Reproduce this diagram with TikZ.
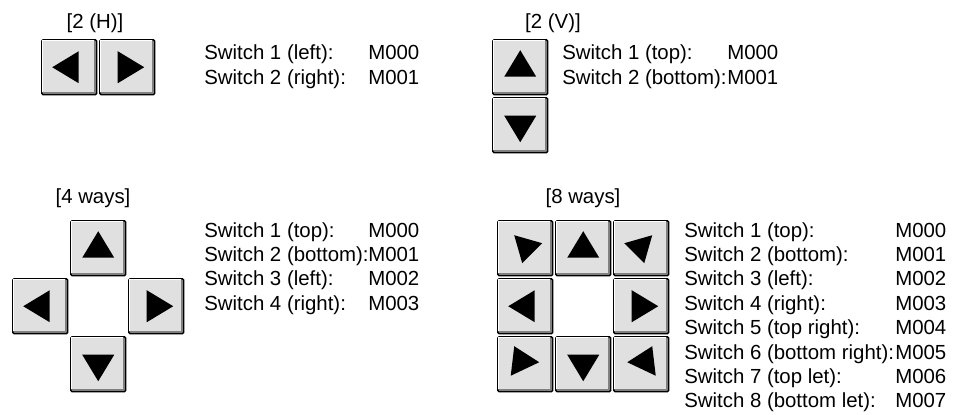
\documentclass[tikz,border=0pt]{standalone}
\usepackage{fontspec}
\setmainfont{Liberation Sans}
\definecolor{facegray}{HTML}{E0E0E0}
\definecolor{shadowgray}{HTML}{808080}
\newcommand\mkface[1]{%
  \fill[white] ([xshift=0.55pt,yshift=-0.55pt]#1.north west) rectangle ([xshift=-2.3pt,yshift=2.3pt]#1.south east);
  \fill[facegray] ([xshift=1.35pt,yshift=-1.35pt]#1.north west) rectangle ([xshift=-2.3pt,yshift=2.3pt]#1.south east);}
\newcommand\mktri[4]{\fill[black,shift={(#1.center)}] #2 -- #3 -- #4 -- cycle;}
\begin{document}
\begin{tikzpicture}[x=0.75pt,y=-0.75pt,
  btn/.style={rectangle, draw=black, line width=1.1pt, fill=shadowgray, minimum size=41.25pt, inner sep=0pt, rounded corners=1pt, anchor=north west},
  lbl/.style={anchor=base west, inner sep=0pt, font=\fontsize{15.3}{18}\selectfont},
  ttl/.style={anchor=base, inner sep=0pt, font=\fontsize{15.3}{18}\selectfont}]
\useasboundingbox (0,0) rectangle (959,414);

% ---------- titles
\node[ttl] (t2h) at (95,28) {[2 (H)]};
\node[ttl] (t2v) at (553,28) {[2 (V)]};
\node[ttl] (t4) at (93,203) {[4 ways]};
\node[ttl] (t8) at (583,203) {[8 ways]};

% ---------- buttons
\foreach \n/\x/\y in {h1/41/39, h2/99/39, v1/492/39, v2/492/97,
  f1/70/220, f2/70/336, f3/12/278, f4/128/278,
  e1/555/220, e2/555/336, e3/497/278, e4/613/278,
  e5/613/220, e6/613/336, e7/497/220, e8/497/336}{
  \node[btn] (\n) at (\x,\y) {};
  \mkface{\n}
}

% ---------- arrows
\mktri{h1}{(-17,0)}{(9.5,-16)}{(9.5,16)}
\mktri{h2}{(17,0)}{(-9.5,-16)}{(-9.5,16)}
\mktri{v1}{(0,-17)}{(-16,9.5)}{(16,9.5)}
\mktri{v2}{(0,17)}{(-16,-9.5)}{(16,-9.5)}
\mktri{f1}{(0,-17)}{(-16,9.5)}{(16,9.5)}
\mktri{f2}{(0,17)}{(-16,-9.5)}{(16,-9.5)}
\mktri{f3}{(-17,0)}{(9.5,-16)}{(9.5,16)}
\mktri{f4}{(17,0)}{(-9.5,-16)}{(-9.5,16)}
\mktri{e1}{(0,-17)}{(-16,9.5)}{(16,9.5)}
\mktri{e2}{(0,17)}{(-16,-9.5)}{(16,-9.5)}
\mktri{e3}{(-17,0)}{(9.5,-16)}{(9.5,16)}
\mktri{e4}{(17,0)}{(-9.5,-16)}{(-9.5,16)}
\mktri{e7}{(-11,-13)}{(17,-5)}{(-3,15)}
\mktri{e5}{(11,-13)}{(-17,-5)}{(3,15)}
\mktri{e8}{(-11,-18)}{(14,-2)}{(-14.5,11.5)}
\mktri{e6}{(11,-18)}{(-14,-2)}{(14.5,11.5)}

% ---------- labels [2 (H)]
\node[lbl] (a1) at (204,59.5) {Switch 1 (left):};
\node[lbl] (a2) at (204,84) {Switch 2 (right):};
\node[lbl] (am1) at (368,59.5) {M000};
\node[lbl] (am2) at (368,84) {M001};

% ---------- labels [2 (V)]
\node[lbl] (b1) at (562,59.5) {Switch 1 (top):};
\node[lbl] (b2) at (562,84) {Switch 2 (bottom):};
\node[lbl] (bm1) at (727,59.5) {M000};
\node[lbl] (bm2) at (727,84) {M001};

% ---------- labels [4 ways]
\foreach \t/\m [count=\i from 0] in {Switch 1 (top):/M000, Switch 2 (bottom):/M001, Switch 3 (left):/M002, Switch 4 (right):/M003}{
  \node[lbl] (c\i) at (204,237+24.4*\i) {\t};
  \node[lbl] (cm\i) at (368,237+24.4*\i) {\m};
}

% ---------- labels [8 ways]
\foreach \t/\m [count=\i from 0] in {Switch 1 (top):/M000, Switch 2 (bottom):/M001, Switch 3 (left):/M002, Switch 4 (right):/M003, Switch 5 (top right):/M004, Switch 6 (bottom right):/M005, Switch 7 (top let):/M006, Switch 8 (bottom let):/M007}{
  \node[lbl] (d\i) at (684,237+24.4*\i) {\t};
  \node[lbl] (dm\i) at (895,237+24.4*\i) {\m};
}
\end{tikzpicture}
\end{document}
